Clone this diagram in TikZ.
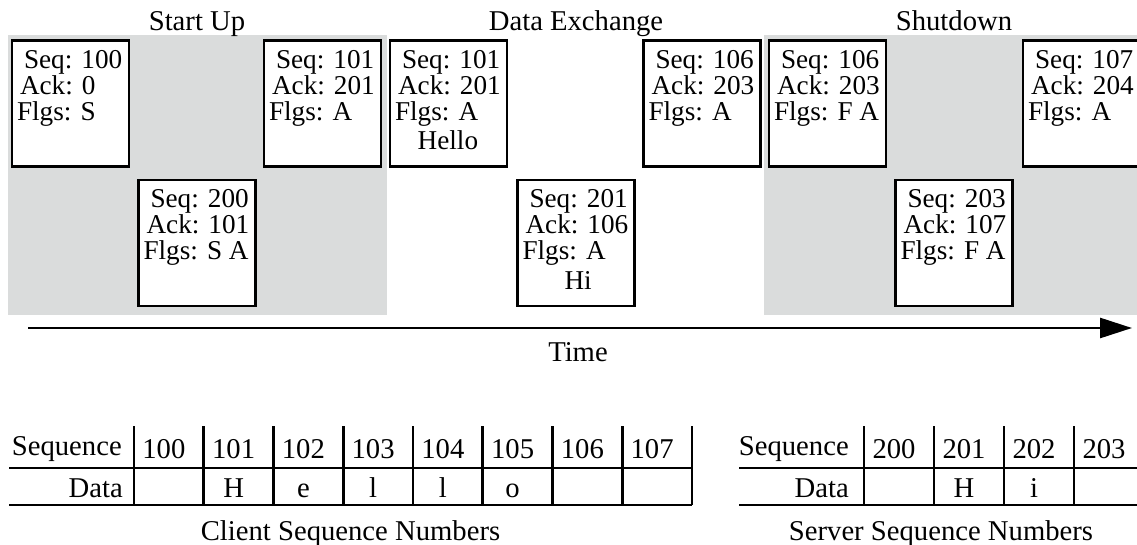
\documentclass[tikz,border=0pt]{standalone}
\usepackage{fontspec}
\setmainfont{Liberation Serif}
\usetikzlibrary{arrows.meta,positioning,calc}
\definecolor{phasegray}{RGB}{218,220,220}
\tikzset{
  segbox/.style={rectangle, draw=black, fill=white, line width=1.8pt,
    minimum width=88pt, minimum height=94.5pt, inner sep=0pt},
  segtext/.style={anchor=north west, inner sep=0pt, align=left,
    font=\fontsize{20.4pt}{19.6pt}\selectfont},
  phasebg/.style={fill=phasegray, draw=none},
  phasetitle/.style={anchor=base, inner sep=0pt,
    font=\fontsize{21.5pt}{24pt}\selectfont},
  celltext/.style={anchor=base, inner sep=0pt,
    font=\fontsize{21.5pt}{24pt}\selectfont},
  tablerule/.style={line width=1.9pt},
  timearrow/.style={line width=2pt, -{Triangle[length=24pt,width=15pt]}},
}
% one segment: box plus its header text
\newcommand{\tcpseg}[4]{%
  \node[segbox] (#1) at (#2,#3) {};
  \node[segtext] at ([shift={(4.6pt,-7.9pt)}]#1.north west) {#4};}
\newcommand{\seghdr}[3]{\hspace{5.25pt}Seq: #1\\\hspace{2.25pt}Ack: #2\\Flgs: #3}

\begin{document}
\begin{tikzpicture}[x=0.75pt, y=-0.75pt]
  \clip (0,0) rectangle (1137,545);
  % phases
  \fill[phasebg] (8,35) rectangle (387,315);
  \fill[phasebg] (764,35) rectangle (1137,315);
  % segments
  \tcpseg{syn}{70.5}{103.5}{\seghdr{100}{0}{S}}
  \tcpseg{synack}{197}{243}{\seghdr{200}{101}{S A}}
  \tcpseg{ack}{322.5}{103.5}{\seghdr{101}{201}{A}}
  \tcpseg{hello}{448.5}{103.5}{\seghdr{101}{201}{A}\\[2.5pt]\hspace{17pt}Hello}
  \tcpseg{hi}{576}{243}{\seghdr{201}{106}{A}\\[2.5pt]\hspace{31.5pt}Hi}
  \tcpseg{ackhi}{702}{103.5}{\seghdr{106}{203}{A}}
  \tcpseg{fin}{827.5}{103.5}{\seghdr{106}{203}{F A}}
  \tcpseg{finack}{954}{243}{\seghdr{203}{107}{F A}}
  \tcpseg{lastack}{1081.5}{103.5}{\seghdr{107}{204}{A}}
  % phase titles
  \node[phasetitle] (tstartup) at (synack |- 0,31) {Start Up};
  \node[phasetitle] (tdata) at (hi |- 0,31) {Data Exchange};
  \node[phasetitle] (tshut) at (finack |- 0,31) {Shutdown};
  % time axis
  \coordinate (tbegin) at (28,328);
  \coordinate (tend) at (1132,328);
  \draw[timearrow] (tbegin) -- (tend);
  \node[celltext] (timelbl) at (578,361) {Time};
  % client sequence numbers
  \draw[tablerule] (9,468) -- (692,468);
  \draw[tablerule] (9,505) -- (692,505);
  \foreach \k in {0,...,8} { \draw[tablerule] (134+69.75*\k,426) -- (134+69.75*\k,505); }
  \node[celltext, anchor=base east] (cseq) at (122,455) {Sequence};
  \node[celltext, anchor=base east] (cdata) at (123,497) {Data};
  \foreach \v/\d [count=\k from 0] in {100/{},101/H,102/e,103/l,104/l,105/o,106/{},107/{}} {
    \node[celltext] (c\v) at (163.9+69.75*\k,458) {\v};
    \node[celltext] at (163.9+69.75*\k,497) {\d};
  }
  \node[celltext] (ccap) at (350.5,540) {Client Sequence Numbers};
  % server sequence numbers
  \draw[tablerule] (739,468) -- (1144,468);
  \draw[tablerule] (739,505) -- (1144,505);
  \foreach \k in {0,...,4} { \draw[tablerule] (864+70*\k,426) -- (864+70*\k,505); }
  \node[celltext, anchor=base east] (sseq) at (849,455) {Sequence};
  \node[celltext, anchor=base east] (sdata) at (849,497) {Data};
  \foreach \v/\d [count=\k from 0] in {200/{},201/H,202/i,203/{}} {
    \node[celltext] (s\v) at (894+70*\k,458) {\v};
    \node[celltext] at (894+70*\k,497) {\d};
  }
  \node[celltext] (scap) at (941,540) {Server Sequence Numbers};
\end{tikzpicture}
\end{document}
